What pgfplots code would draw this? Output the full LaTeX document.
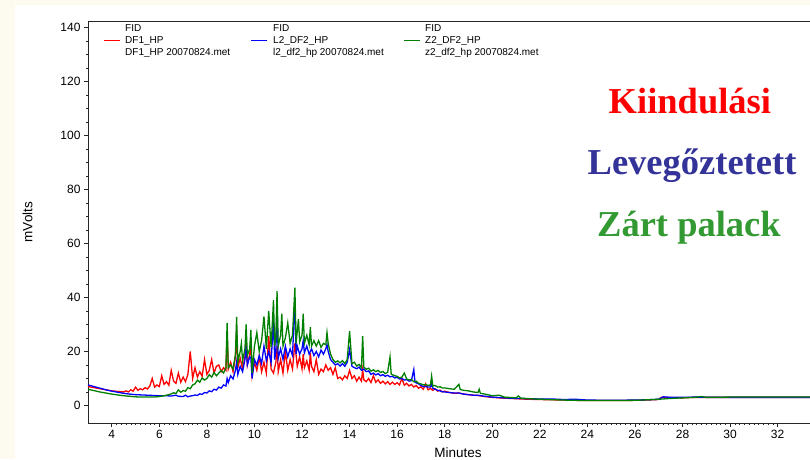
\documentclass[border=0pt]{standalone}
\usepackage{pgfplots}
\pgfplotsset{compat=1.18}
\usepackage{fontspec}
\setmainfont{Liberation Sans}
\newfontfamily\bigserif{Liberation Serif}
\definecolor{cream}{RGB}{253,250,240}
\definecolor{tred}{RGB}{255,0,0}
\definecolor{tblue}{RGB}{0,0,255}
\definecolor{tgreen}{RGB}{0,128,0}
\definecolor{lblue}{RGB}{51,51,153}
\definecolor{lgreen}{RGB}{51,153,51}
\pgfplotstableread{
x y
3.0 7.0
3.25 6.6
3.5 6.2
3.75 5.8
4.0 5.4
4.25 5.2
4.5 5.0
4.6 5.4
4.7 5.0
4.8 5.8
4.9 5.3
5.0 6.8
5.1 5.6
5.2 6.2
5.3 5.8
5.4 6.6
5.5 6.1
5.6 7.2
5.7 10.0
5.8 6.8
5.9 7.6
6.0 7.0
6.1 11.0
6.2 7.8
6.3 8.8
6.4 7.5
6.5 13.0
6.6 9.0
6.7 8.2
6.8 12.0
6.9 8.6
7.0 10.5
7.1 8.8
7.2 11.5
7.3 20.0
7.4 10.0
7.5 14.0
7.6 10.5
7.7 12.5
7.8 10.8
7.9 17.0
8.0 11.5
8.1 13.0
8.2 17.0
8.3 12.0
8.4 14.5
8.5 15.0
8.6 12.5
8.7 14.0
8.8 13.0
8.85 27.0
8.9 13.5
9.0 16.0
9.1 12.5
9.2 18.0
9.25 28.0
9.3 14.0
9.4 17.5
9.5 13.5
9.6 18.0
9.65 23.0
9.7 15.0
9.8 19.0
9.85 23.0
9.9 11.0
10.0 16.0
10.1 13.0
10.2 18.0
10.3 12.5
10.4 16.0
10.5 12.0
10.6 25.7
10.7 13.5
10.8 12.0
10.9 16.0
10.95 22.0
11.0 12.5
11.1 17.0
11.2 12.0
11.3 20.0
11.4 13.0
11.5 17.0
11.6 13.5
11.7 23.0
11.8 14.5
11.9 18.0
12.0 13.5
12.05 19.0
12.1 14.0
12.2 16.5
12.3 13.0
12.35 19.5
12.4 14.5
12.5 12.5
12.6 17.0
12.7 11.5
12.8 13.5
12.9 12.5
13.0 15.0
13.1 13.0
13.2 14.0
13.3 11.5
13.4 14.0
13.5 10.0
13.6 10.5
13.7 9.5
13.8 11.0
13.9 10.0
14.0 13.0
14.1 10.0
14.2 11.0
14.3 9.0
14.4 10.5
14.5 9.0
14.55 13.3
14.6 9.5
14.7 8.8
14.8 10.0
14.9 8.5
15.0 11.0
15.1 8.6
15.2 9.5
15.3 8.2
15.4 9.0
15.5 8.0
15.6 8.8
15.7 7.8
15.8 8.6
15.9 7.8
16.0 8.4
16.1 7.6
16.2 10.0
16.3 7.5
16.4 8.2
16.5 7.2
16.6 7.8
16.7 6.8
16.8 7.4
16.9 6.4
17.0 6.9
17.1 6.0
17.2 8.0
17.3 5.8
17.4 6.3
17.5 5.6
17.6 6.2
17.7 5.3
17.8 5.7
17.9 5.0
18.0 5.3
18.2 4.8
18.4 4.5
18.6 4.6
18.8 4.2
19.0 4.0
19.2 3.8
19.4 3.7
19.6 3.4
19.8 3.2
20.0 3.0
20.5 2.7
21.0 2.5
21.5 2.3
22.0 2.2
23.0 2.0
24.0 1.8
25.0 1.8
26.0 1.9
26.5 2.0
27.0 2.2
27.1 3.0
27.5 2.9
28.0 2.8
28.5 3.0
29.0 3.0
30.0 3.0
31.0 3.0
32.0 3.0
33.5 3.0
}\redtable
\pgfplotstableread{
x y
3.0 7.6
3.25 7.0
3.5 6.4
3.75 5.8
4.0 5.3
4.25 4.9
4.5 4.5
4.75 4.2
5.0 4.0
5.5 3.8
6.0 3.6
6.3 3.6
6.5 3.5
6.7 3.8
6.8 3.4
7.0 3.3
7.1 3.8
7.2 3.2
7.3 3.5
7.4 3.6
7.5 3.9
7.6 3.7
7.7 4.3
7.8 4.1
7.9 4.8
8.0 4.6
8.1 5.4
8.2 5.1
8.3 6.0
8.4 5.7
8.5 6.8
8.6 6.4
8.7 7.6
8.8 7.2
8.85 10.0
8.9 8.5
9.0 11.0
9.1 9.8
9.2 13.0
9.25 16.0
9.3 11.5
9.4 14.5
9.5 12.5
9.6 17.0
9.65 22.0
9.7 15.0
9.8 18.0
9.85 17.5
9.9 10.0
10.0 17.0
10.1 15.0
10.2 18.5
10.3 15.5
10.4 22.0
10.5 16.5
10.6 20.0
10.7 16.0
10.8 32.0
10.85 17.0
10.9 20.0
10.95 36.8
11.0 17.5
11.1 21.0
11.2 17.0
11.3 22.0
11.4 18.0
11.5 21.0
11.6 18.5
11.7 39.0
11.75 19.0
11.8 22.0
11.9 19.0
12.0 21.0
12.05 24.0
12.1 19.5
12.2 22.0
12.3 19.0
12.4 21.0
12.5 18.5
12.6 20.0
12.7 18.0
12.8 20.5
12.9 19.0
13.0 21.0
13.05 22.6
13.1 20.0
13.2 17.0
13.3 16.0
13.4 15.0
13.5 15.5
13.6 14.6
13.7 15.5
13.8 14.5
13.9 16.0
14.0 20.7
14.1 14.5
14.2 14.0
14.3 13.6
14.4 14.2
14.5 13.0
14.6 13.5
14.7 12.5
14.8 12.8
14.9 11.5
15.0 12.0
15.1 11.3
15.2 11.8
15.3 11.0
15.4 11.4
15.5 10.8
15.6 11.2
15.7 10.6
15.8 10.8
15.9 10.2
16.0 10.4
16.1 9.8
16.2 10.0
16.3 9.4
16.4 9.6
16.5 9.0
16.6 9.2
16.7 13.3
16.75 8.6
16.8 8.4
16.9 8.0
17.0 7.4
17.1 7.0
17.2 7.0
17.3 6.8
17.4 6.8
17.45 8.0
17.5 6.4
17.6 6.0
17.7 5.6
17.8 5.4
17.9 5.1
18.0 5.0
18.2 4.8
18.4 4.6
18.6 4.6
18.8 4.2
19.0 4.0
19.2 3.8
19.4 3.8
19.6 3.5
19.8 3.3
20.0 3.1
20.5 2.8
21.0 2.6
21.5 2.5
22.0 2.4
22.5 2.4
23.0 2.2
23.5 2.3
24.0 2.0
25.0 1.9
26.0 2.0
26.5 2.1
27.0 2.3
27.2 3.2
27.5 3.0
28.0 3.0
28.5 3.1
29.0 3.0
30.0 3.0
31.0 3.0
32.0 3.0
33.5 3.0
}\bluetable
\pgfplotstableread{
x y
3.0 6.0
3.25 5.5
3.5 5.0
3.75 4.6
4.0 4.2
4.25 3.9
4.5 3.6
4.75 3.4
5.0 3.2
5.25 3.1
5.5 3.1
5.75 3.1
6.0 3.3
6.2 3.6
6.4 4.0
6.5 4.3
6.6 4.7
6.7 4.4
6.8 5.8
6.9 4.9
7.0 5.5
7.1 5.3
7.2 6.6
7.3 6.2
7.4 7.6
7.5 8.0
7.6 9.4
7.7 8.6
7.8 10.2
7.9 9.4
8.0 10.0
8.1 11.4
8.2 10.5
8.3 12.2
8.4 11.0
8.5 12.0
8.6 13.0
8.7 12.0
8.8 14.0
8.85 30.6
8.9 14.0
9.0 15.0
9.1 13.5
9.2 19.0
9.25 32.8
9.3 16.0
9.4 20.0
9.45 23.0
9.5 16.5
9.6 21.0
9.65 30.0
9.7 18.5
9.8 21.0
9.85 28.0
9.9 12.0
10.0 22.0
10.1 27.0
10.2 20.0
10.3 24.0
10.4 33.0
10.5 21.0
10.6 35.0
10.7 21.5
10.8 39.0
10.85 22.0
10.9 25.0
10.95 42.3
11.0 22.0
11.1 26.0
11.15 34.0
11.2 22.0
11.3 25.0
11.4 30.6
11.5 23.0
11.6 26.0
11.7 43.6
11.75 23.0
11.85 32.0
11.9 23.5
12.0 26.0
12.05 34.0
12.1 23.0
12.2 26.0
12.3 22.5
12.35 29.0
12.4 22.0
12.5 24.0
12.6 22.0
12.7 24.0
12.8 21.5
12.9 23.0
13.0 22.5
13.05 27.0
13.1 23.0
13.2 19.0
13.3 17.0
13.4 16.0
13.5 16.5
13.6 15.8
13.7 16.6
13.8 15.5
13.9 17.0
14.0 27.5
14.1 15.5
14.2 16.0
14.3 14.6
14.4 15.2
14.5 14.0
14.55 25.7
14.6 14.2
14.7 13.4
14.8 13.8
14.9 12.7
15.0 13.2
15.1 12.5
15.2 13.0
15.3 12.2
15.4 12.6
15.5 11.8
15.6 12.3
15.7 18.0
15.75 11.6
15.8 11.4
15.9 11.0
16.0 10.8
16.1 10.2
16.2 10.5
16.3 12.0
16.4 9.8
16.5 9.5
16.6 9.6
16.7 8.8
16.8 9.0
16.9 8.2
17.0 8.0
17.1 7.6
17.2 7.8
17.3 7.4
17.4 7.6
17.45 10.9
17.5 7.2
17.6 7.4
17.7 6.8
17.8 6.9
17.9 6.5
18.0 6.5
18.2 6.2
18.4 6.0
18.6 7.8
18.65 5.9
18.8 5.6
19.0 5.4
19.2 5.0
19.4 4.8
19.45 6.0
19.5 4.5
19.7 4.2
20.0 3.6
20.3 3.8
20.5 3.1
21.0 2.8
21.1 3.5
21.2 2.7
22.0 2.3
23.0 2.0
24.0 1.8
25.0 1.8
26.0 1.9
27.0 2.3
27.5 2.6
28.0 2.8
28.5 3.0
28.8 3.3
29.0 3.0
30.0 3.1
31.0 3.1
32.0 3.1
33.5 3.1
}\greentable
\begin{document}
\begin{tikzpicture}
\fill[cream] (-88pt,-36pt) rectangle (722pt,423pt);
\fill[white] (-73pt,-36pt) rectangle (722pt,418pt);
\begin{axis}[
  at={(0pt,0pt)}, anchor=south west,
  x=23.78pt, y=2.7pt,
  xmin=3, xmax=33.6, ymin=-6.5, ymax=142.4,
  axis line style={black!85, line width=0.8pt},
  tick pos=left, tick align=outside,
  major tick length=4pt, minor tick length=2pt,
  tick style={black!85, line width=0.6pt},
  xtick={4,6,...,32}, ytick={0,20,...,140},
  minor x tick num=9, minor y tick num=3,
  /pgf/number format/assume math mode=true,
  ticklabel style={font=\fontsize{12}{14}\selectfont},
  xlabel={Minutes}, ylabel={mVolts},
  xlabel style={at={(axis description cs:0.5085,-0.0746)}, anchor=center, font=\fontsize{13.5}{15}\selectfont},
  ylabel style={at={(axis description cs:-0.0831,0.5)}, anchor=center, font=\fontsize{13.5}{15}\selectfont},
  every axis plot/.append style={line width=1.3pt},
]
\addplot[color=tred] table[x=x,y=y] {\redtable};
\addplot[color=tblue] table[x=x,y=y] {\bluetable};
\addplot[color=tgreen] table[x=x,y=y] {\greentable};
% legend
\draw[draw=tred, line width=1.2pt] (axis cs:3.673,135.26) -- (axis cs:4.346,135.26);
\draw[draw=tblue, line width=1.2pt] (axis cs:9.855,135.26) -- (axis cs:10.528,135.26);
\draw[draw=tgreen, line width=1.2pt] (axis cs:16.29,135.26) -- (axis cs:16.96,135.26);
\begin{scope}[every node/.style={anchor=base west, inner sep=0pt, font=\fontsize{10}{12}\selectfont}]
\node at (axis cs:4.556,138.37) {FID};
\node at (axis cs:4.556,134.07) {DF1\_HP};
\node at (axis cs:4.556,129.7) {DF1\_HP 20070824.met};
\node at (axis cs:10.78,138.37) {FID};
\node at (axis cs:10.78,134.07) {L2\_DF2\_HP};
\node at (axis cs:10.78,129.7) {l2\_df2\_hp 20070824.met};
\node at (axis cs:17.17,138.37) {FID};
\node at (axis cs:17.17,134.07) {Z2\_DF2\_HP};
\node at (axis cs:17.17,129.7) {z2\_df2\_hp 20070824.met};
\end{scope}
\node[anchor=base, font=\bigserif\bfseries\fontsize{36.5}{40}\selectfont, text=tred] at (axis cs:28.31,108.3) {Kiindulási};
\node[anchor=base, font=\bigserif\bfseries\fontsize{36.5}{40}\selectfont, text=lblue] at (axis cs:28.4,85.7) {Levegőztetett};
\node[anchor=base, font=\bigserif\bfseries\fontsize{36.5}{40}\selectfont, text=lgreen] at (axis cs:28.27,62.5) {Zárt palack};
\end{axis}
\pgfresetboundingbox
\useasboundingbox (-88pt,-36pt) rectangle (722pt,423pt);
\end{tikzpicture}
\end{document}
